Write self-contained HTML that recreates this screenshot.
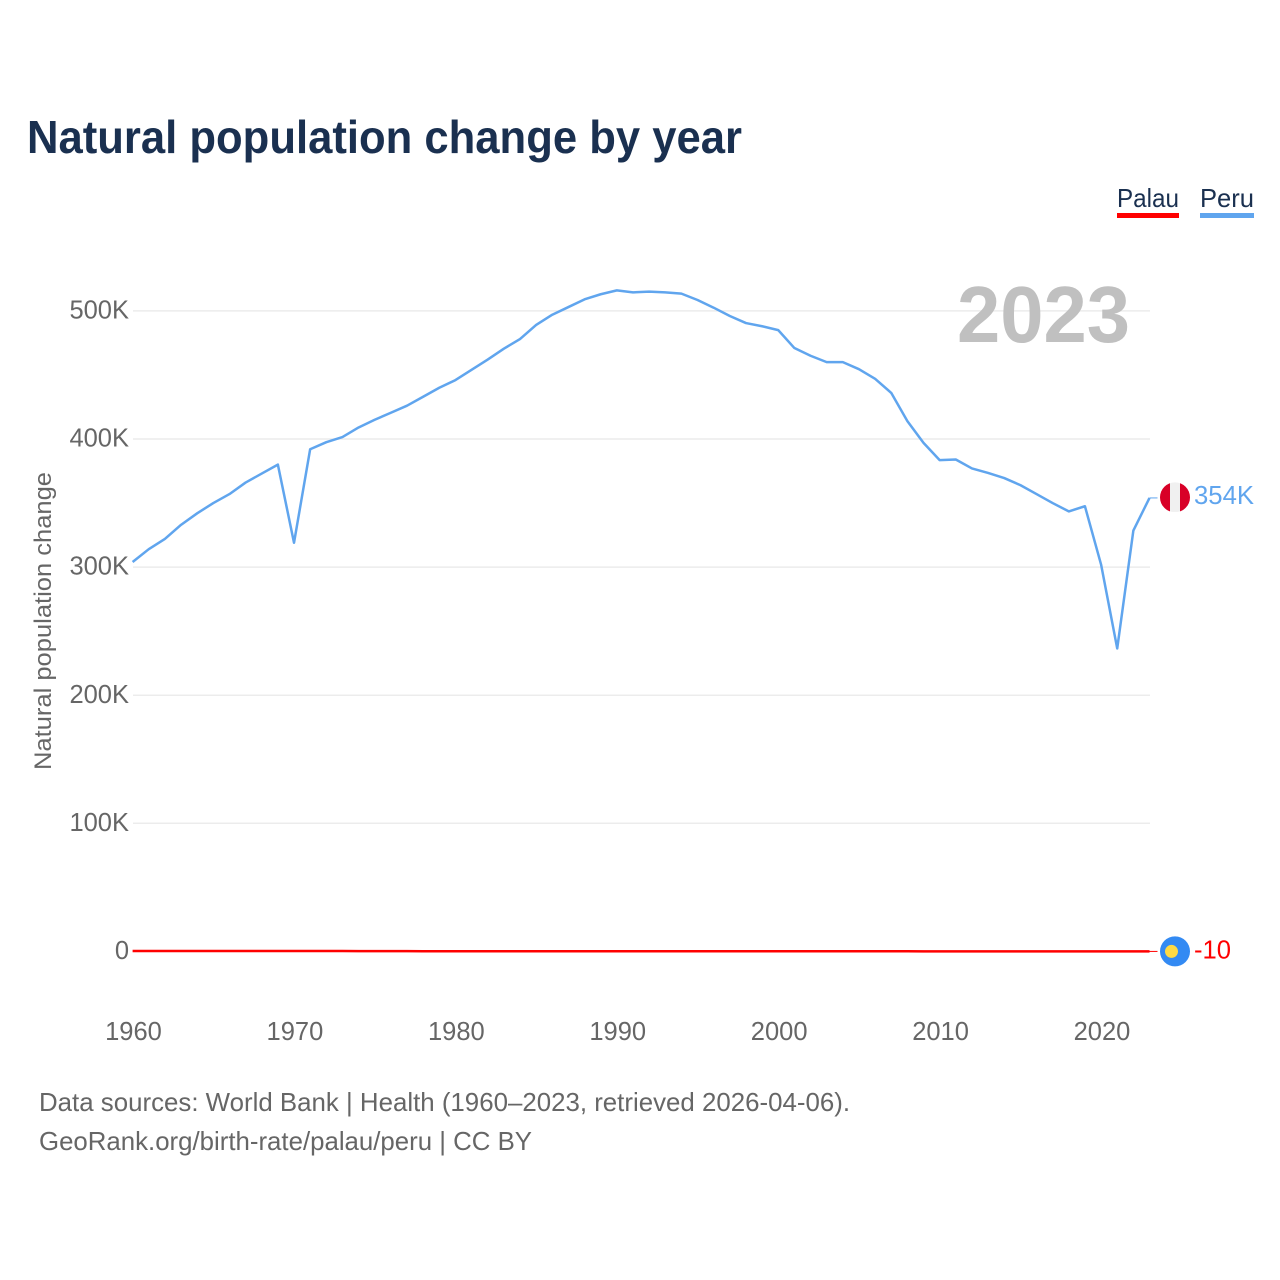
<!DOCTYPE html>
<html lang="en">
<head>
<meta charset="utf-8">
<title>Natural population change by year</title>
<style>
html,body{margin:0;padding:0;background:#fff}
svg{display:block}
text{font-family:"Liberation Sans",sans-serif}
</style>
</head>
<body>
<svg id="chart" xmlns="http://www.w3.org/2000/svg" width="1280" height="1280" viewBox="0 0 1280 1280">
  <rect width="1280" height="1280" fill="#fff"/>
  <text x="27" y="153" font-size="46" font-weight="700" fill="#1a3050" textLength="715" lengthAdjust="spacingAndGlyphs">Natural population change by year</text>
  <g>
    <g>
      <text x="1117" y="207" font-size="26" fill="#1a3050" textLength="62" lengthAdjust="spacingAndGlyphs">Palau</text>
      <rect x="1117" y="213" width="62" height="5" fill="#ff0000"/>
    </g>
    <g>
      <text x="1200" y="207" font-size="26" fill="#1a3050" textLength="54" lengthAdjust="spacingAndGlyphs">Peru</text>
      <rect x="1200" y="213" width="54" height="5" fill="#60a5ee"/>
    </g>
  </g>
  <g id="grid"></g>
  <g id="yticks"></g>
  <g id="xticks"></g>
  <text transform="translate(51,770) rotate(-90)" font-size="24" fill="#666" textLength="298" lengthAdjust="spacingAndGlyphs">Natural population change</text>
  <text x="957" y="342" font-size="80" font-weight="700" fill="#c0c0c0" textLength="173" lengthAdjust="spacingAndGlyphs">2023</text>
  <g id="series"></g>
  <defs>
    <clipPath id="peru-clip"><circle id="peru-clip-circle" cx="1175" cy="497" r="15"/></clipPath>
  </defs>
  <g id="peru-flag" clip-path="url(#peru-clip)">
    <rect id="peru-flag-left" x="1160" y="482" width="10" height="30" fill="#d80027"/>
    <rect id="peru-flag-mid" x="1170" y="482" width="10" height="30" fill="#f0f0f0"/>
    <rect id="peru-flag-right" x="1180" y="482" width="10" height="30" fill="#d80027"/>
  </g>
  <g id="palau-flag">
    <circle id="palau-flag-bg" cx="1175" cy="951" r="15" fill="#338af3"/>
    <circle id="palau-flag-sun" cx="1171.5" cy="951" r="6.5" fill="#ffda44"/>
  </g>
  <text id="peru-end-label" x="1194" y="504" font-size="25.5" fill="#60a5ee" textLength="60" lengthAdjust="spacingAndGlyphs"></text>
  <text id="palau-end-label" x="1194" y="958" font-size="25.5" fill="#ff0000" textLength="37" lengthAdjust="spacingAndGlyphs"></text>
  <text x="39" y="1111" font-size="26" fill="#666" textLength="811" lengthAdjust="spacingAndGlyphs">Data sources: World Bank | Health (1960–2023, retrieved 2026-04-06).</text>
  <text x="39" y="1150" font-size="26" fill="#666" textLength="493" lengthAdjust="spacingAndGlyphs">GeoRank.org/birth-rate/palau/peru | CC BY</text>
</svg>
<script>
const years = [1960,1961,1962,1963,1964,1965,1966,1967,1968,1969,1970,1971,1972,1973,1974,1975,1976,1977,1978,1979,1980,1981,1982,1983,1984,1985,1986,1987,1988,1989,1990,1991,1992,1993,1994,1995,1996,1997,1998,1999,2000,2001,2002,2003,2004,2005,2006,2007,2008,2009,2010,2011,2012,2013,2014,2015,2016,2017,2018,2019,2020,2021,2022,2023];
const peruValues = [304000,314000,322000,333000,342000,350000,357000,366000,373000,380000,319000,392000,397500,401500,409000,415000,420500,426000,433000,440000,446000,454000,462000,470500,478000,489000,497000,503000,509000,513000,516000,514500,515000,514500,513500,508500,502500,496000,490500,488000,485000,471000,465000,460000,460000,454500,447000,436000,414000,397000,383500,384000,377000,373500,369500,364000,357000,350000,343500,347500,302000,236500,328500,354000];
const palauValues = [320,330,340,340,330,330,320,320,310,310,300,300,290,280,230,220,210,190,160,160,150,150,150,140,140,140,130,130,120,120,120,110,110,110,100,90,90,90,90,90,80,80,80,80,70,70,70,70,70,60,60,60,60,50,50,30,30,20,20,10,-5,-10,-5,-10];
const yTickValues = [0,100000,200000,300000,400000,500000];
const yTickLabels = ["0","100K","200K","300K","400K","500K"];
const xTickValues = [1960,1970,1980,1990,2000,2010,2020];
const peruEndText = "354K";
const palauEndText = "-10";

const NS = "http://www.w3.org/2000/svg";
const plotLeft = 132.6, plotRight = 1149.5, zeroY = 951.4, pxPerUnit = 128.1 / 100000;
const gridLeft = 133, gridRight = 1150;
const xScale = function (yr) { return plotLeft + (yr - years[0]) * (plotRight - plotLeft) / (years[years.length - 1] - years[0]); };
const yScale = function (v) { return zeroY - v * pxPerUnit; };

const grid = document.getElementById("grid");
const yticks = document.getElementById("yticks");
yTickValues.forEach(function (v, i) {
  const line = document.createElementNS(NS, "line");
  
  
  line.setAttribute("x1", gridLeft);
  line.setAttribute("x2", gridRight);
  line.setAttribute("y1", yScale(v));
  line.setAttribute("y2", yScale(v));
  line.setAttribute("stroke", "#ececec");
  line.setAttribute("stroke-width", "1.5");
  grid.appendChild(line);
  const t = document.createElementNS(NS, "text");
  
  
  t.setAttribute("x", 129);
  t.setAttribute("y", yScale(v) + 7.6);
  t.setAttribute("text-anchor", "end");
  t.setAttribute("font-size", "25.5");
  t.setAttribute("fill", "#666");
  t.textContent = yTickLabels[i];
  yticks.appendChild(t);
});

const xticks = document.getElementById("xticks");
xTickValues.forEach(function (yr) {
  const t = document.createElementNS(NS, "text");
  
  
  t.setAttribute("x", xScale(yr) + 0.9);
  t.setAttribute("y", 1040);
  t.setAttribute("text-anchor", "middle");
  t.setAttribute("font-size", "25.5");
  t.setAttribute("fill", "#666");
  t.textContent = yr;
  xticks.appendChild(t);
});

const series = document.getElementById("series");
function drawSeries(values, color, name) {
  const pts = values.map(function (v, i) { return xScale(years[i]).toFixed(2) + "," + yScale(v).toFixed(2); }).join(" ");
  const pl = document.createElementNS(NS, "polyline");
  
  
  pl.setAttribute("points", pts);
  pl.setAttribute("fill", "none");
  pl.setAttribute("stroke", color);
  pl.setAttribute("stroke-width", "2.5");
  pl.setAttribute("stroke-linejoin", "round");
  series.appendChild(pl);
  const conn = document.createElementNS(NS, "line");
  
  
  const endY = yScale(values[values.length - 1]);
  conn.setAttribute("x1", plotRight);
  conn.setAttribute("x2", plotRight + 8);
  conn.setAttribute("y1", endY);
  conn.setAttribute("y2", endY);
  conn.setAttribute("stroke", color);
  conn.setAttribute("stroke-width", "1");
  series.appendChild(conn);
}
drawSeries(peruValues, "#60a5ee", "peru-line");
drawSeries(palauValues, "#ff0000", "palau-line");

const peruEnd = yScale(peruValues[peruValues.length - 1]);
const palauEnd = yScale(palauValues[palauValues.length - 1]);
document.getElementById("peru-clip-circle").setAttribute("cy", peruEnd - 0.6);
["peru-flag-left", "peru-flag-mid", "peru-flag-right"].forEach(function (id) {
  document.getElementById(id).setAttribute("y", peruEnd - 16);
});
document.getElementById("palau-flag-bg").setAttribute("cy", palauEnd);
document.getElementById("palau-flag-sun").setAttribute("cy", palauEnd);
const peruLabel = document.getElementById("peru-end-label");
peruLabel.textContent = peruEndText;
peruLabel.setAttribute("y", peruEnd + 6);
const palauLabel = document.getElementById("palau-end-label");
palauLabel.textContent = palauEndText;
palauLabel.setAttribute("y", palauEnd + 7);
</script>
</body>
</html>
